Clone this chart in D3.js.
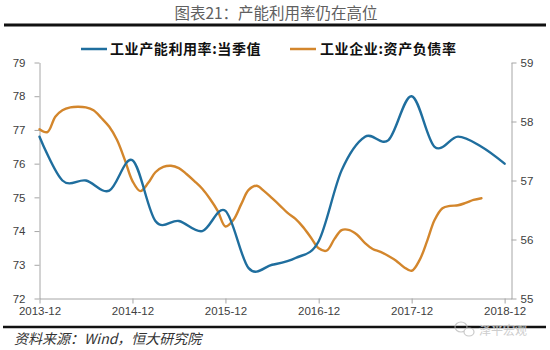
<!DOCTYPE html>
<html>
<head>
<meta charset="utf-8">
<script src="https://cdn.jsdelivr.net/npm/d3@7/dist/d3.min.js"></script>
<style>
  html, body { margin: 0; padding: 0; background: #fff; }
  svg { display: block; }
</style>
</head>
<body>
<svg id="chart" width="550" height="350"></svg>
<script>
// Industrial capacity utilization (quarterly, %) — left axis
const quarters = ["2013-12","2014-03","2014-06","2014-09","2014-12","2015-03","2015-06","2015-09","2015-12",
  "2016-03","2016-06","2016-09","2016-12","2017-03","2017-06","2017-09","2017-12","2018-03","2018-06","2018-09","2018-12"];
const capacityUtil = [76.8, 75.5, 75.5, 75.2, 76.1, 74.3, 74.3, 74.0, 74.6,
  72.9, 73.0, 73.2, 73.7, 75.8, 76.8, 76.7, 78.0, 76.5, 76.8, 76.5, 76.0];

// Industrial enterprises asset-liability ratio (monthly, %) — right axis
const months = ["2013-12",
  "2014-01","2014-02","2014-03","2014-04","2014-05","2014-06","2014-07","2014-08","2014-09","2014-10","2014-11","2014-12",
  "2015-01","2015-02","2015-03","2015-04","2015-05","2015-06","2015-07","2015-08","2015-09","2015-10","2015-11","2015-12",
  "2016-01","2016-02","2016-03","2016-04","2016-05","2016-06","2016-07","2016-08","2016-09","2016-10","2016-11","2016-12",
  "2017-01","2017-02","2017-03","2017-04","2017-05","2017-06","2017-07","2017-08","2017-09","2017-10","2017-11","2017-12",
  "2018-01","2018-02","2018-03","2018-04","2018-05","2018-06","2018-07","2018-08","2018-09"];
const debtRatio = [57.87,
  57.82, 58.08, 58.19, 58.24, 58.25, 58.24, 58.19, 58.06, 57.91, 57.69, 57.35, 56.99,
  56.82, 56.96, 57.14, 57.23, 57.25, 57.21, 57.11, 56.99, 56.86, 56.69, 56.48, 56.22,
  56.33, 56.60, 56.84, 56.91, 56.82, 56.70, 56.58, 56.45, 56.35, 56.21, 56.03, 55.85,
  55.81, 56.01, 56.16, 56.16, 56.08, 55.94, 55.84, 55.79, 55.72, 55.64, 55.53, 55.47,
  55.65, 55.99, 56.33, 56.53, 56.57, 56.58, 56.62, 56.67, 56.70];

const xTicks = ["2013-12","2014-12","2015-12","2016-12","2017-12","2018-12"];
const leftTicks = [72, 73, 74, 75, 76, 77, 78, 79];
const rightTicks = [55, 56, 57, 58, 59];

const seriesNames = ["工业产能利用率:当季值", "工业企业:资产负债率"];
const colors = ["#1f6e9e", "#d3862c"];

const parse = d3.timeParse("%Y-%m");
const fmt = d3.timeFormat("%Y-%m");

const svg = d3.select("#chart");
const plot = { left: 39.5, right: 511.5, top: 62.5, bottom: 298.5 };

const x = d3.scaleTime()
  .domain([parse("2013-12"), new Date(2018, 11, 28)])
  .range([plot.left, plot.right]);
const yL = d3.scaleLinear().domain([72, 79]).range([plot.bottom, plot.top]);
const yR = d3.scaleLinear().domain([55, 59]).range([plot.bottom, plot.top]);

// Title and rules
svg.append("text")
  .attr("x", 276).attr("y", 19)
  .attr("text-anchor", "middle")
  .attr("font-family", "'Noto Sans CJK SC', sans-serif")
  .attr("font-size", 15.5)
  .attr("fill", "#606060")
  .text("图表21：产能利用率仍在高位");

svg.append("line")
  .attr("x1", 4).attr("x2", 546).attr("y1", 25).attr("y2", 25)
  .attr("stroke", "#111").attr("stroke-width", 3);

// Legend
const legendItems = [{ x1: 81, x2: 107, tx: 110 }, { x1: 290, x2: 316, tx: 320 }];
legendItems.forEach((it, i) => {
  svg.append("line")
    .attr("x1", it.x1).attr("x2", it.x2).attr("y1", 49).attr("y2", 49)
    .attr("stroke", colors[i]).attr("stroke-width", 2.5);
  svg.append("text")
    .attr("x", it.tx).attr("y", 54)
    .attr("font-family", "'Noto Sans CJK SC', sans-serif")
    .attr("font-weight", "bold")
    .attr("font-size", 14)
    .attr("letter-spacing", 0.6)
    .attr("fill", "#111")
    .text(seriesNames[i]);
});

const axisColor = "#a6a6a6";
const tickFont = "'Liberation Sans', Arial, sans-serif";

function styleAxis(g) {
  g.selectAll(".domain").attr("stroke", axisColor);
  g.selectAll(".tick line").attr("stroke", axisColor);
  g.selectAll(".tick text")
    .attr("font-family", tickFont)
    .attr("font-size", 11.5)
    .attr("fill", "#404040");
}

// Left axis
svg.append("g")
  .attr("transform", `translate(${plot.left},0)`)
  .call(d3.axisLeft(yL).tickValues(leftTicks).tickFormat(d3.format("d"))
    .tickSize(5).tickSizeOuter(0).tickPadding(9))
  .call(styleAxis);

// Right axis
svg.append("g")
  .attr("transform", `translate(${plot.right},0)`)
  .call(d3.axisRight(yR).tickValues(rightTicks).tickFormat(d3.format("d"))
    .tickSize(5).tickSizeOuter(0).tickPadding(4))
  .call(styleAxis);

// Bottom axis
svg.append("g")
  .attr("transform", `translate(0,${plot.bottom})`)
  .call(d3.axisBottom(x).tickValues(xTicks.map(parse)).tickFormat(fmt)
    .tickSize(5).tickSizeOuter(0).tickPadding(3))
  .call(styleAxis);

// Series lines
const blueData = quarters.map((q, i) => ({ d: parse(q), v: capacityUtil[i] }));
const orangeData = months.map((m, i) => ({ d: parse(m), v: debtRatio[i] }));

svg.append("path")
  .datum(orangeData)
  .attr("fill", "none")
  .attr("stroke", colors[1])
  .attr("stroke-width", 2.4)
  .attr("stroke-linecap", "round")
  .attr("stroke-linejoin", "round")
  .attr("d", d3.line().x(p => x(p.d)).y(p => yR(p.v)).curve(d3.curveCatmullRom.alpha(0.5)));

svg.append("path")
  .datum(blueData)
  .attr("fill", "none")
  .attr("stroke", colors[0])
  .attr("stroke-width", 2.4)
  .attr("stroke-linecap", "round")
  .attr("d", d3.line().x(p => x(p.d)).y(p => yL(p.v)).curve(d3.curveCardinal.tension(0)));

// Footer rule and source note
svg.append("line")
  .attr("x1", 3).attr("x2", 546).attr("y1", 327).attr("y2", 327)
  .attr("stroke", "#111").attr("stroke-width", 2.5);

svg.append("text")
  .attr("x", 14).attr("y", 344)
  .attr("font-family", "'Noto Sans CJK SC', sans-serif")
  .attr("font-style", "italic")
  .attr("font-size", 14)
  .attr("fill", "#333")
  .text("资料来源：Wind，恒大研究院");

// Account mark, bottom right
const mark = svg.append("g").attr("opacity", 0.75);
mark.append("ellipse").attr("cx", 461).attr("cy", 327).attr("rx", 6).attr("ry", 5)
  .attr("fill", "none").attr("stroke", "#b8b8b8").attr("stroke-width", 1.2);
mark.append("ellipse").attr("cx", 469).attr("cy", 332).attr("rx", 5).attr("ry", 4)
  .attr("fill", "#fff").attr("stroke", "#b8b8b8").attr("stroke-width", 1.2);
mark.append("text")
  .attr("x", 479).attr("y", 335)
  .attr("font-family", "'Noto Sans CJK SC', sans-serif")
  .attr("font-size", 12)
  .attr("fill", "#bdbdbd")
  .attr("stroke", "#fff").attr("stroke-width", 0.6).attr("paint-order", "stroke")
  .text("泽平宏观");
</script>
</body>
</html>
